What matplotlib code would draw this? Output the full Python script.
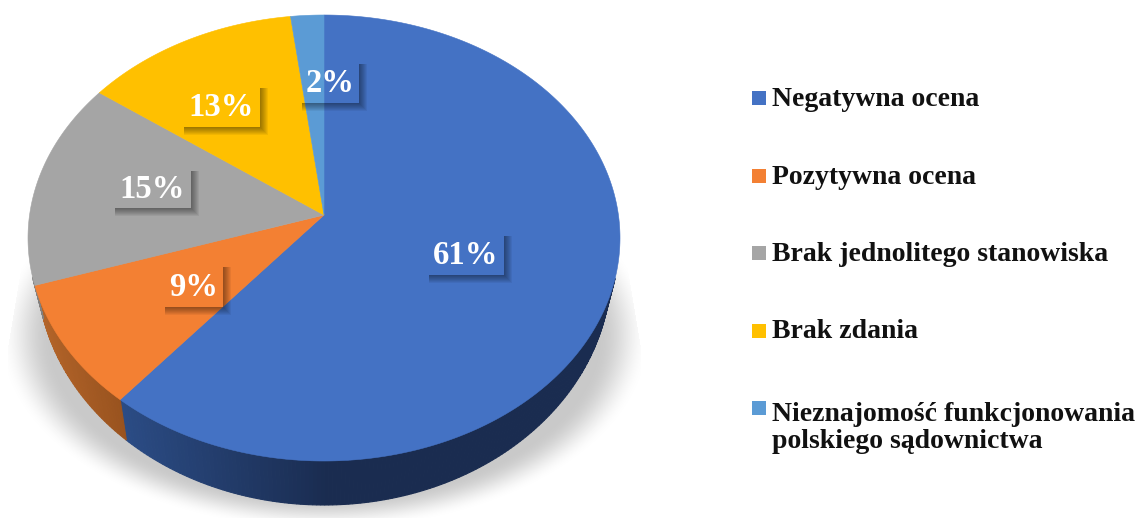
import numpy as np
import matplotlib
matplotlib.use('Agg')
import matplotlib.pyplot as plt
from matplotlib.patches import Polygon, Rectangle

# donnees du graphique
categories = ['Negatywna ocena', 'Pozytywna ocena', 'Brak jednolitego stanowiska', 'Brak zdania',
              'Nieznajomość funkcjonowania\npolskiego sądownictwa']
valeurs = [61, 9, 15, 13, 2]
etiquettes = ['61%', '9%', '15%', '13%', '2%']

couleurs = ['#4472C4', '#F38033', '#A5A5A5', '#FFC000', '#5B9BD5']
# couleur du flanc : debut et fin du degrade (de gauche a droite)
flanc_debut = ['#2B4C85', '#B6662A', '#808080', '#B08500', '#3F6D96']
flanc_fin = ['#1A2C50', '#99531F', '#808080', '#B08500', '#3F6D96']

# mise en page en pixels
boites = [(425, 232, 504, 275), (161, 263, 223, 307), (111, 167, 191, 208), (180, 84, 260, 127), (298, 60, 359, 103)]
legende_y = [106, 184, 261, 338, 448]
carre_y = [91, 169, 246, 324, 401]
decalage = 0.103  # centre du camembert decale vers le haut (perspective)


def rim(theta):
    # point du bord en coordonnees de l'ellipse
    x, y = np.cos(theta), np.sin(theta)
    d = 1 + decalage * y
    return x * np.sqrt(1 - decalage ** 2) / d, (y + decalage) / d


def haut(u, v):
    return 324 + 296 * u, 238 - 223 * v


def bas(u, v):
    return 324 + 287 * u, 269 - 236 * v


def hex_rgb(h):
    return np.array(matplotlib.colors.to_rgb(h))


fig = plt.figure(figsize=(11.4, 5.18), dpi=100)
ax = fig.add_axes([0, 0, 1, 1])

# ombre sous le camembert
xx, yy = np.meshgrid(np.arange(0, 660), np.arange(230, 518))
r = np.sqrt(((xx - 324) / 322) ** 2 + ((yy - 335) / 192) ** 2)
alpha = np.clip((1.01 - r) / 0.16, 0, 1)
alpha = alpha * alpha * (3 - 2 * alpha)
limite = 8 + np.clip(345 - yy, 0, None) * 14 / 85
alpha[(xx < limite) | (xx > 648 - limite)] = 0
ombre = np.zeros(alpha.shape + (4,))
ombre[..., :3] = 0.79
ombre[..., 3] = alpha
ax.imshow(ombre, extent=(0, 660, 518, 230), aspect='auto', zorder=1)
ax.set_xlim(0, 1140)
ax.set_ylim(518, 0)
ax.axis('off')

# angles des parts, sens horaire a partir du haut
bornes = np.pi / 2 - 2 * np.pi * np.cumsum([0] + valeurs) / sum(valeurs)

# flanc : petites bandes pour le degrade, seulement sur la partie basse
for i in range(len(valeurs)):
    t = np.linspace(bornes[i], bornes[i + 1], max(2, valeurs[i] * 5))
    c0, c1 = hex_rgb(flanc_debut[i]), hex_rgb(flanc_fin[i])
    for a, b in zip(t[:-1], t[1:]):
        ua, va = rim(a)
        ub, vb = rim(b)
        xb0, yb0 = bas(ua, va)
        xb1, yb1 = bas(ub, vb)
        xh0, yh0 = haut(ua, va)
        xh1, yh1 = haut(ub, vb)
        if yb0 < 310 or yb1 < 310:
            continue
        if i == 0:
            # bleu : fonce jusqu'au milieu, degrade vers la gauche
            f = np.clip((xb0 - 127) / 203, 0, 1)
        else:
            f = 1 - np.clip((127 - xb0) / 90, 0, 1)
        col = c0 * (1 - f) + c1 * f
        ax.add_patch(Polygon([(xh0, yh0), (xh1, yh1), (xb1, yb1), (xb0, yb0)], closed=True,
                             facecolor=col, edgecolor=col, linewidth=0.8, zorder=2))

# dessus du camembert
cx, cy = haut(0, decalage)
for i in range(len(valeurs)):
    t = np.linspace(bornes[i], bornes[i + 1], valeurs[i] * 8)
    x, y = haut(*rim(t))
    ax.fill(np.r_[cx, x], np.r_[cy, y], color=couleurs[i], linewidth=0.4, zorder=3)

# etiquettes : seule l'ombre de la boite est visible
for lab, (x0, y0, x1, y1) in zip(etiquettes, boites):
    for k in range(1, 9):
        ax.add_patch(Polygon([(x1, y0 + 4), (x1 + k, y0 + 4), (x1 + k, y1 + k), (x0 + 4, y1 + k), (x0 + 4, y1), (x1, y1)],
                             closed=True, facecolor='black', edgecolor='none', alpha=0.055, zorder=4))
    ax.text((x0 + x1) / 2 + 1.5, (y0 + y1) / 2 + 10.5, lab, color='white', fontsize=23.5, fontweight='bold',
            family='Liberation Serif', ha='center', va='baseline', zorder=5)

# legende
for i, nom in enumerate(categories):
    ax.add_patch(Rectangle((752, carre_y[i]), 14, 14, facecolor=couleurs[i], edgecolor='none', zorder=3))
    ax.text(772, legende_y[i], nom, color='#111111', fontsize=20, fontweight='bold', family='Liberation Serif',
            ha='left', va='baseline', linespacing=1.1, zorder=3)

fig.savefig('out.png', dpi=100)
